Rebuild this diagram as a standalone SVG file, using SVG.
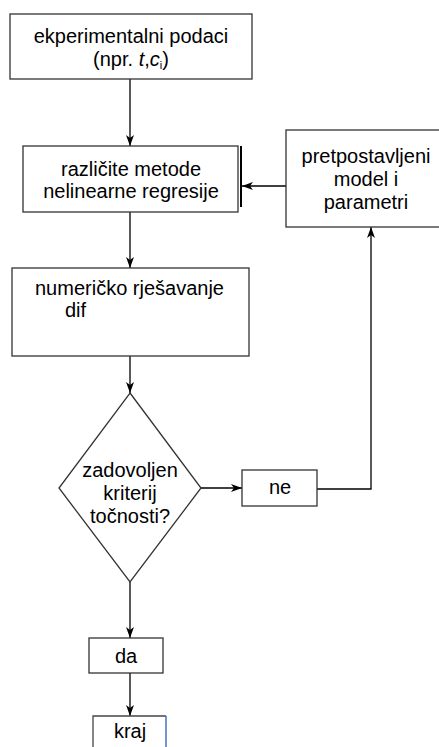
<svg xmlns="http://www.w3.org/2000/svg" width="439" height="747" viewBox="0 0 439 747">
<style>
.box{fill:#fff;stroke:#333;stroke-width:1.3}
.t{font-family:"Liberation Sans",Arial,sans-serif;font-size:20px;fill:#000;text-anchor:middle}
.tl{font-family:"Liberation Sans",Arial,sans-serif;font-size:20px;fill:#000}
.c{fill:none;stroke:#000;stroke-width:1.3}
</style>
<defs>
<marker id="ah" markerWidth="12" markerHeight="8" refX="11" refY="4" orient="auto" markerUnits="userSpaceOnUse">
<path d="M0,0 L11,4 L0,8 L3,4 Z" fill="#000"/>
</marker>
</defs>
<rect width="439" height="747" fill="#fff"/>
<g id="connectors">
<line class="c" x1="130" y1="79" x2="130" y2="146" marker-end="url(#ah)"/>
<line class="c" x1="130" y1="212" x2="130" y2="268" marker-end="url(#ah)"/>
<line class="c" x1="130" y1="356" x2="130" y2="393" marker-end="url(#ah)"/>
<line class="c" x1="130" y1="582" x2="130" y2="638" marker-end="url(#ah)"/>
<line class="c" x1="130" y1="673" x2="130" y2="716" marker-end="url(#ah)"/>
<line class="c" x1="201" y1="488" x2="242" y2="488" marker-end="url(#ah)"/>
<polyline class="c" points="317,489 371,489 371,227" marker-end="url(#ah)"/>
<line class="c" x1="286" y1="186" x2="242" y2="186" marker-end="url(#ah)"/>
</g>
<g id="node-data">
<rect class="box" x="10" y="14" width="242" height="65"/>
<text class="t" x="131" y="43">ekperimentalni podaci</text>
<text class="t" x="131" y="66">(npr. <tspan font-style="italic">t</tspan>,<tspan font-style="italic">c</tspan><tspan font-size="11" dy="3">i</tspan><tspan dy="-3">)</tspan></text>
</g>
<g id="node-regresija">
<rect class="box" x="23" y="146" width="215" height="66" stroke="#666"/>
<line x1="241" y1="146" x2="241" y2="207" stroke="#000" stroke-width="2"/>
<text class="t" x="131" y="176">različite metode</text>
<text class="t" x="131" y="198">nelinearne regresije</text>
</g>
<g id="node-model">
<rect class="box" x="286" y="130" width="170" height="97"/>
<text class="t" x="366" y="163">pretpostavljeni</text>
<text class="t" x="366" y="186">model i</text>
<text class="t" x="366" y="209">parametri</text>
</g>
<g id="node-numericko">
<rect class="box" x="12" y="268" width="237" height="88"/>
<text class="tl" x="35" y="295">numeričko rješavanje</text>
<text class="tl" x="65" y="317">dif</text>
</g>
<g id="node-kriterij">
<polygon class="box" points="130,393 201,488 130,582 59,488"/>
<text class="t" x="130" y="477">zadovoljen</text>
<text class="t" x="130" y="500">kriterij</text>
<text class="t" x="130" y="523">točnosti?</text>
</g>
<g id="node-ne">
<rect class="box" x="242" y="470" width="75" height="36"/>
<text class="t" x="280" y="494">ne</text>
</g>
<g id="node-da">
<rect class="box" x="89" y="638" width="74" height="35" stroke="#555"/>
<text class="t" x="126" y="663">da</text>
</g>
<g id="node-kraj">
<rect x="93" y="716" width="73" height="40" fill="#fff" stroke="none"/>
<path d="M93,756 L93,716 L166,716" fill="none" stroke="#444" stroke-width="1.3"/>
<line x1="166" y1="716" x2="166" y2="756" stroke="#4472c4" stroke-width="1.5"/>
<text class="t" x="130" y="738">kraj</text>
</g>
</svg>
